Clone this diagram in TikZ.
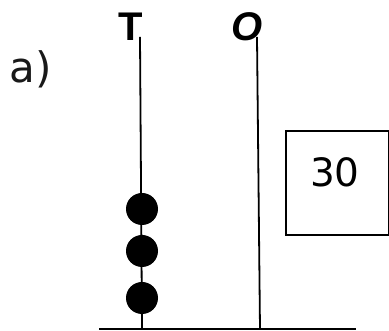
\documentclass[tikz,border=0pt]{standalone}
\usepackage{fontspec}
\setmainfont{DejaVu Sans}
\newfontfamily\labfont{Liberation Sans}
\begin{document}
\begin{tikzpicture}[x=1pt,y=1pt,
  rod/.style={line width=1.8pt},
  bead/.style={circle,fill=black,minimum size=32pt,inner sep=0pt},
  rodlabel/.style={font=\labfont\bfseries\fontsize{40}{42}\selectfont,inner sep=0pt}]
\useasboundingbox (0,0) rectangle (389,331);
\node[font=\fontsize{42}{46}\selectfont,text=black!90,inner sep=0pt] (lbl) at (31,262) {a)};
\node[rodlabel] (tl) at (131,304) {T};
\node[rodlabel,font=\labfont\bfseries\itshape\fontsize{40}{42}\selectfont] (ol) at (247,304) {O};
\coordinate (ttop) at (140,294);
\coordinate (tbot) at (142,2);
\coordinate (otop) at (257,294);
\coordinate (obot) at (260,2);
\coordinate (bl) at (99,2);
\coordinate (br) at (356,2);
\draw[rod] (ttop) -- (tbot);
\draw[rod] (otop) -- (obot);
\draw[rod] (bl) -- (br);
\node[bead] (b1) at (142,122) {};
\node[bead] (b2) at (142,80) {};
\node[bead] (b3) at (142,33) {};
\draw[line width=1.6pt] (286,96) rectangle (388.3,200);
\node[font=\fontsize{39}{42}\selectfont,inner sep=0pt] (num) at (335,159) {30};
\end{tikzpicture}
\end{document}
